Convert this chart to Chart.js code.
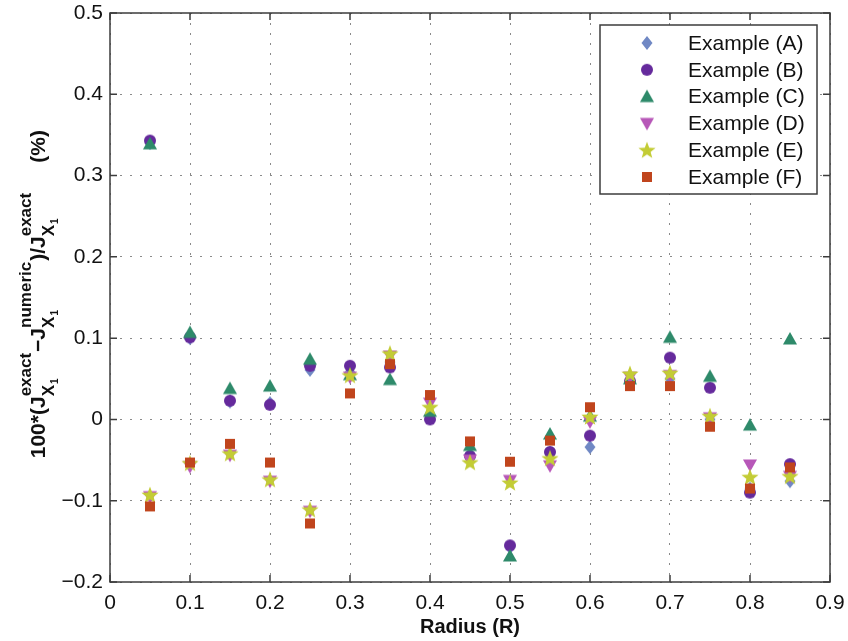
<!DOCTYPE html>
<html>
<head>
<meta charset="utf-8">
<script src="https://cdn.jsdelivr.net/npm/chart.js@4/dist/chart.umd.min.js"></script>
<style>
  html, body { margin: 0; padding: 0; background: #fff; }
</style>
</head>
<body>
<canvas id="errChart" width="848" height="641"></canvas>
<script>
// radius positions and relative error of each example
var radius = [0.05, 0.10, 0.15, 0.20, 0.25, 0.30, 0.35, 0.40, 0.45, 0.50, 0.55, 0.60, 0.65, 0.70, 0.75, 0.80, 0.85];

var exampleA = [0.340, 0.100, 0.022, 0.020, 0.061, 0.058, 0.070, 0.004, -0.043, -0.157, -0.043, -0.034, 0.045, 0.050, 0.000, -0.085, -0.076];
var exampleB = [0.343, 0.101, 0.023, 0.018, 0.066, 0.066, 0.064, 0.000, -0.045, -0.155, -0.040, -0.020, 0.047, 0.076, 0.039, -0.090, -0.055];
var exampleC = [0.339, 0.107, 0.038, 0.041, 0.074, 0.055, 0.049, 0.010, -0.032, -0.168, -0.018, 0.004, 0.050, 0.101, 0.053, -0.007, 0.099];
var exampleD = [-0.095, -0.058, -0.044, -0.076, -0.113, 0.052, 0.078, 0.020, -0.050, -0.075, -0.057, -0.003, 0.052, 0.054, 0.002, -0.056, -0.070];
var exampleE = [-0.093, -0.054, -0.042, -0.074, -0.111, 0.054, 0.081, 0.015, -0.053, -0.078, -0.048, 0.003, 0.056, 0.057, 0.004, -0.071, -0.070];
var exampleF = [-0.107, -0.053, -0.030, -0.053, -0.128, 0.032, 0.068, 0.030, -0.027, -0.052, -0.026, 0.015, 0.041, 0.041, -0.009, -0.085, -0.059];

var seriesNames = ['Example (A)', 'Example (B)', 'Example (C)', 'Example (D)', 'Example (E)', 'Example (F)'];

var xTickLabels = ['0', '0.1', '0.2', '0.3', '0.4', '0.5', '0.6', '0.7', '0.8', '0.9'];
var yTickLabels = ['\u22120.2', '\u22120.1', '0', '0.1', '0.2', '0.3', '0.4', '0.5'];

var FONT = "'Liberation Sans', Arial, Helvetica, sans-serif";

// filled marker drawn on a small canvas, used as pointStyle
function makeMarker(shape, color) {
    var c = document.createElement('canvas');
    c.width = 24; c.height = 24;
    var g = c.getContext('2d');
    var cx = 12, cy = 12;
    g.fillStyle = color;
    g.beginPath();
    if (shape === 'diamond') {
        g.moveTo(cx, cy - 7); g.lineTo(cx + 5.5, cy); g.lineTo(cx, cy + 7); g.lineTo(cx - 5.5, cy);
    } else if (shape === 'circle') {
        g.arc(cx, cy, 6, 0, Math.PI * 2);
    } else if (shape === 'up') {
        g.moveTo(cx, cy - 7); g.lineTo(cx + 7, cy + 5.5); g.lineTo(cx - 7, cy + 5.5);
    } else if (shape === 'down') {
        g.moveTo(cx, cy + 7); g.lineTo(cx + 7, cy - 5.5); g.lineTo(cx - 7, cy - 5.5);
    } else if (shape === 'star') {
        for (var i = 0; i < 10; i++) {
            var r = i % 2 ? 3.8 : 9;
            var a = -Math.PI / 2 + i * Math.PI / 5;
            g.lineTo(cx + r * Math.cos(a), cy + 0.5 + r * Math.sin(a));
        }
    } else if (shape === 'square') {
        g.rect(cx - 5, cy - 5, 10, 10);
    }
    g.closePath();
    g.fill();
    return c;
}

var markers = [
    makeMarker('diamond', '#7088c4'),
    makeMarker('circle', '#652a9c'),
    makeMarker('up', '#2e8a6a'),
    makeMarker('down', '#b757b8'),
    makeMarker('star', '#c3cc35'),
    makeMarker('square', '#c0451d')
];

var seriesValues = [exampleA, exampleB, exampleC, exampleD, exampleE, exampleF];

var datasets = seriesValues.map(function (vals, i) {
    return {
        label: seriesNames[i],
        data: vals.map(function (v, j) { return { x: radius[j], y: v }; }),
        pointStyle: markers[i],
        order: 6 - i
    };
});

// axes box with inward ticks, like the original
var framePlugin = {
    id: 'frame',
    afterDatasetsDraw: function (chart) {
        var ctx = chart.ctx, a = chart.chartArea;
        var xs = chart.scales.x, ys = chart.scales.y;
        ctx.save();
        ctx.strokeStyle = '#3c3c3c';
        ctx.lineWidth = 1.5;
        ctx.strokeRect(a.left, a.top, a.right - a.left, a.bottom - a.top);
        ctx.beginPath();
        xs.ticks.forEach(function (t) {
            var px = xs.getPixelForValue(t.value);
            ctx.moveTo(px, a.bottom); ctx.lineTo(px, a.bottom - 7);
            ctx.moveTo(px, a.top); ctx.lineTo(px, a.top + 7);
        });
        ys.ticks.forEach(function (t) {
            var py = ys.getPixelForValue(t.value);
            ctx.moveTo(a.left, py); ctx.lineTo(a.left + 7, py);
            ctx.moveTo(a.right, py); ctx.lineTo(a.right - 7, py);
        });
        ctx.stroke();
        ctx.restore();
    }
};

// boxed legend in the top right corner of the plot
var boxLegend = {
    id: 'boxLegend',
    afterDraw: function (chart) {
        var ctx = chart.ctx, a = chart.chartArea;
        var w = 217, h = 169;
        var left = a.right - 13 - w, top = a.top + 12;
        ctx.save();
        ctx.fillStyle = '#fff';
        ctx.fillRect(left, top, w, h);
        ctx.strokeStyle = '#3c3c3c';
        ctx.lineWidth = 1.5;
        ctx.strokeRect(left, top, w, h);
        ctx.font = '21px ' + FONT;
        ctx.fillStyle = '#111';
        ctx.textBaseline = 'middle';
        chart.data.datasets.forEach(function (ds, i) {
            var y = top + 18 + i * 26.8;
            var m = ds.pointStyle;
            ctx.drawImage(m, left + 47 - m.width / 2, y - m.height / 2);
            ctx.fillText(ds.label, left + 88, y + 1);
        });
        ctx.restore();
    }
};

// y title with sub- and superscripts
var yTitle = {
    id: 'yTitle',
    afterDraw: function (chart) {
        var ctx = chart.ctx;
        var main = 'bold 21px ' + FONT, small = 'bold 17px ' + FONT, tiny = 'bold 10px ' + FONT;
        var parts = [
            { t: '100*(J' },
            { sup: 'exact' },
            { t: '\u2212J' },
            { sup: 'numeric' },
            { t: ')/J' },
            { sup: 'exact' },
            { t: '     (%)' }
        ];
        function partWidth(p) {
            if (p.t) { ctx.font = main; return ctx.measureText(p.t).width; }
            ctx.font = small;
            var w1 = ctx.measureText(p.sup).width;
            var w2 = ctx.measureText('X').width;
            ctx.font = tiny;
            w2 += ctx.measureText('1').width + 1;
            return Math.max(w1, w2) + 1;
        }
        ctx.save();
        var total = 0;
        parts.forEach(function (p) { total += partWidth(p); });
        ctx.translate(45, 130 + total);
        ctx.rotate(-Math.PI / 2);
        ctx.fillStyle = '#111';
        ctx.textBaseline = 'alphabetic';
        var u = 0;
        parts.forEach(function (p) {
            var w = partWidth(p);
            if (p.t) {
                ctx.font = main;
                ctx.fillText(p.t, u, 0);
            } else {
                ctx.font = small;
                ctx.fillText(p.sup, u, -14);
                ctx.fillText('X', u, 9);
                var xw = ctx.measureText('X').width;
                ctx.font = tiny;
                ctx.fillText('1', u + xw + 1, 13);
            }
            u += w;
        });
        ctx.restore();
    }
};

new Chart(document.getElementById('errChart'), {
    type: 'scatter',
    data: { datasets: datasets },
    options: {
        responsive: false,
        animation: false,
        layout: { padding: { top: 13, right: 18, left: 0, bottom: 0 } },
        plugins: {
            legend: { display: false },
            tooltip: { enabled: false }
        },
        scales: {
            x: {
                type: 'linear',
                min: 0,
                max: 0.9,
                afterFit: function (s) { s.height = 59; s.paddingLeft = 0; s.paddingRight = 0; },
                ticks: {
                    stepSize: 0.1,
                    padding: 9,
                    color: '#111',
                    font: { family: FONT, size: 21 },
                    maxRotation: 0,
                    callback: function (v) { return xTickLabels[Math.round(v * 10)]; }
                },
                grid: { color: '#8a8a8a', lineWidth: 1, drawTicks: false },
                border: { display: false, dash: [2, 8] },
                title: {
                    display: true,
                    text: 'Radius (R)',
                    color: '#111',
                    font: { family: FONT, size: 20, weight: 'bold' },
                    padding: { top: 0, bottom: 2 }
                }
            },
            y: {
                type: 'linear',
                min: -0.2,
                max: 0.5,
                afterFit: function (s) { s.width = 110; s.paddingTop = 0; s.paddingBottom = 0; },
                ticks: {
                    stepSize: 0.1,
                    padding: 7,
                    color: '#111',
                    font: { family: FONT, size: 21 },
                    callback: function (v) { return yTickLabels[Math.round(v * 10) + 2]; }
                },
                grid: { color: '#8a8a8a', lineWidth: 1, drawTicks: false },
                border: { display: false, dash: [2, 8] }
            }
        }
    },
    plugins: [framePlugin, boxLegend, yTitle]
});
</script>
</body>
</html>
